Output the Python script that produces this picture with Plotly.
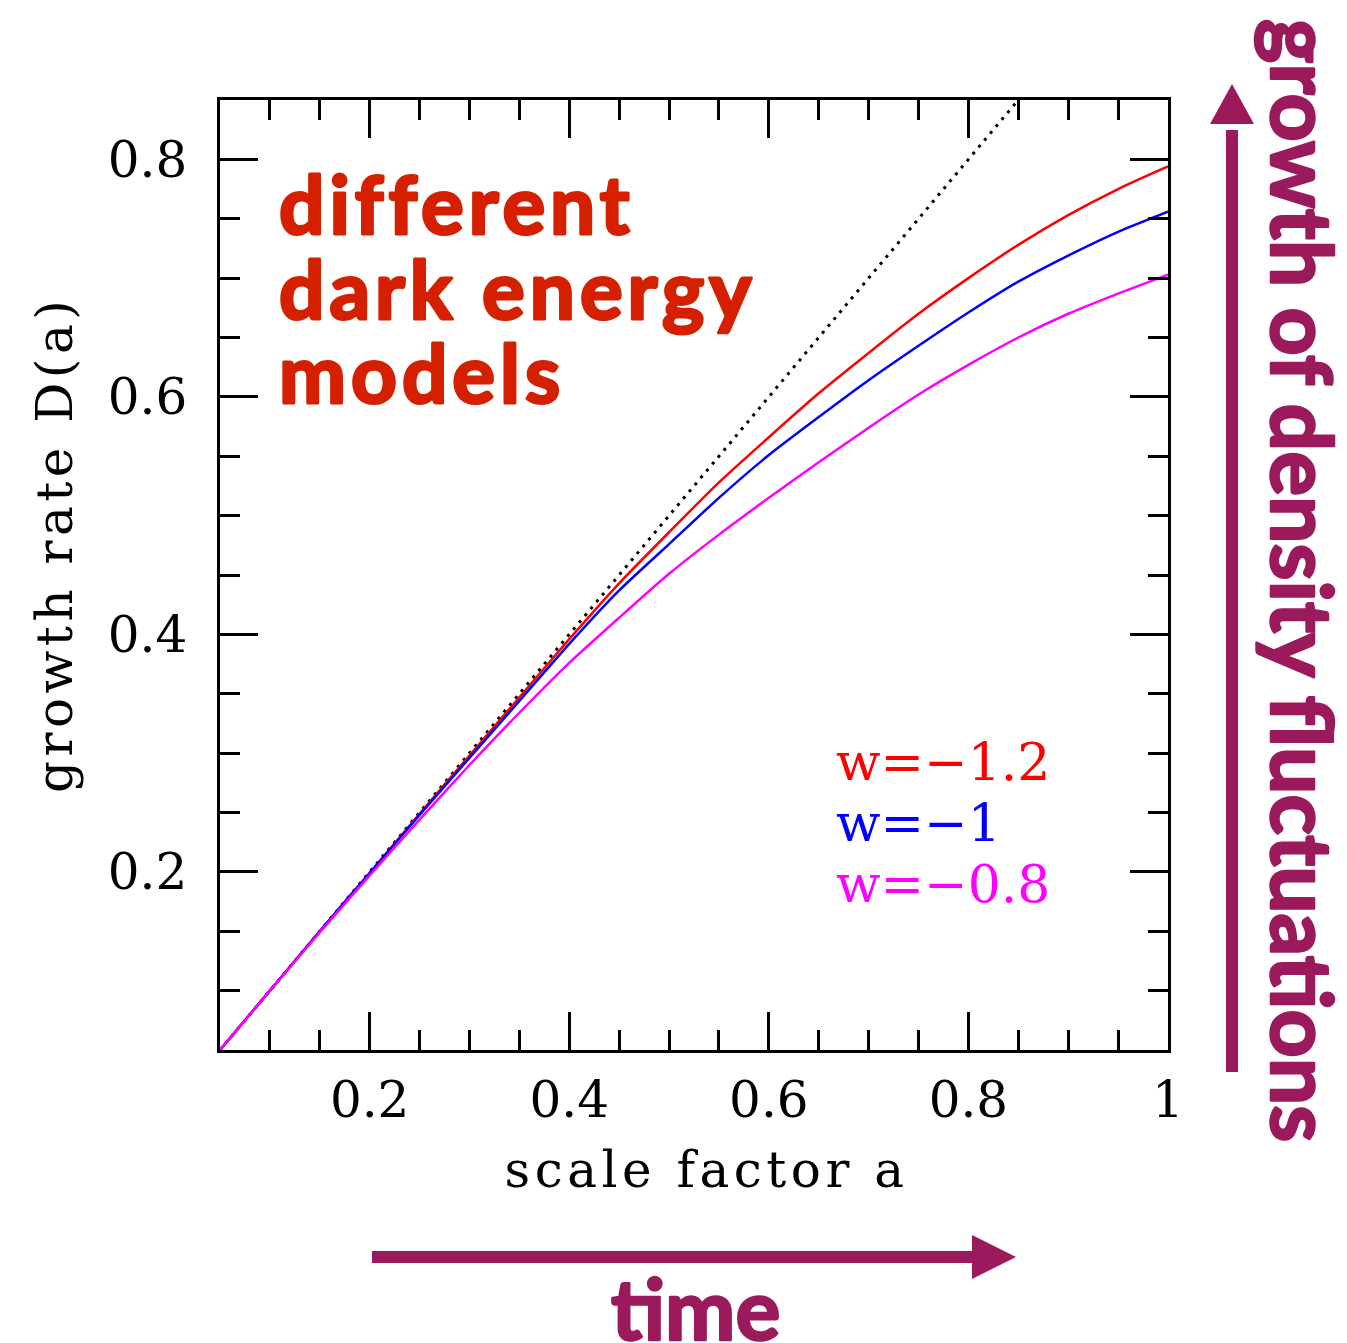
import plotly.graph_objects as go

# ---- data ----
scale_a = [0.05, 0.10, 0.15, 0.20, 0.25, 0.30, 0.35, 0.40, 0.45, 0.50,
           0.55, 0.60, 0.65, 0.70, 0.75, 0.80, 0.85, 0.90, 0.95, 1.00]
D_w_m12 = [0.050, 0.100, 0.150, 0.199, 0.249, 0.298, 0.347, 0.396, 0.443, 0.486,
           0.528, 0.566, 0.603, 0.637, 0.670, 0.700, 0.728, 0.753, 0.775, 0.794]
D_w_m10 = [0.050, 0.100, 0.150, 0.199, 0.248, 0.296, 0.344, 0.392, 0.437, 0.476,
           0.515, 0.551, 0.583, 0.614, 0.643, 0.671, 0.697, 0.719, 0.739, 0.756]
D_w_m08 = [0.050, 0.100, 0.149, 0.197, 0.244, 0.290, 0.334, 0.376, 0.414, 0.451,
           0.484, 0.515, 0.545, 0.574, 0.602, 0.627, 0.650, 0.670, 0.687, 0.703]
ref_a = [0.05, 0.86]
ref_D = [0.05, 0.86]

series_labels = ["w=\u22121.2", "w=\u22121", "w=\u22120.8"]
series_colors = ["#FF0000", "#0000FF", "#FF00FF"]

x_tickvals = [0.2, 0.4, 0.6, 0.8, 1.0]
x_ticktext = ["0.2", "0.4", "0.6", "0.8", "1"]
y_tickvals = [0.2, 0.4, 0.6, 0.8]
y_ticktext = ["0.2", "0.4", "0.6", "0.8"]

PURPLE = "#9A1A5C"
TITLE_RED = "#D52000"
SERIF = "DejaVu Serif"
SANS = "Lato"

fig = go.Figure()
fig.add_trace(go.Scatter(x=ref_a, y=ref_D, mode="lines",
                         line=dict(color="black", width=3, dash="3px,6px"),
                         showlegend=False, hoverinfo="skip"))
for ys, lab, col in zip([D_w_m12, D_w_m10, D_w_m08], series_labels, series_colors):
    fig.add_trace(go.Scatter(x=scale_a, y=ys, mode="lines", name=lab,
                             line=dict(color=col, width=2.5, shape="spline", smoothing=0.6),
                             showlegend=False))

axis_common = dict(showline=True, linecolor="black", linewidth=2.5, mirror="allticks",
                   ticks="inside", ticklen=38, tickwidth=2.5, tickcolor="black",
                   showgrid=False, zeroline=False,
                   tickfont=dict(family=SERIF, size=50, color="black"))
fig.update_xaxes(range=[0.05, 1.0], tickvals=x_tickvals, ticktext=x_ticktext,
                 ticklabelstandoff=4,
                 minor=dict(ticks="inside", ticklen=20, tickwidth=2.5, tickcolor="black",
                            tick0=0, dtick=0.05),
                 **axis_common)
fig.update_yaxes(range=[0.05, 0.85], tickvals=y_tickvals, ticktext=y_ticktext,
                 ticklabelstandoff=20,
                 minor=dict(ticks="inside", ticklen=20, tickwidth=2.5, tickcolor="black",
                            tick0=0, dtick=0.05),
                 **axis_common)

W, H = 1347, 1343
L, R, T, B = 220, 179, 100, 293
pw, ph = W - L - R, H - T - B


def px(xp):
    return (xp - L) / pw


def py(yp):
    return (H - B - yp) / ph


ann = []
# model title lines
for txt, yc in [("different", 203), ("dark energy", 288), ("models", 372)]:
    ann.append(dict(text=txt, x=px(277), y=py(yc), xref="paper", yref="paper",
                    xanchor="left", yanchor="middle", showarrow=False,
                    font=dict(family=SANS, size=80, color=TITLE_RED, weight="bold")))
# series labels
for lab, col, yc in zip(series_labels, series_colors, [762, 823, 884]):
    ann.append(dict(text=lab, x=px(834), y=py(yc), xref="paper", yref="paper",
                    xanchor="left", yanchor="middle", showarrow=False,
                    font=dict(family=SERIF, size=52, color=col)))
# axis titles
ann.append(dict(text="scale factor a", x=px(706), y=py(1170), xref="paper", yref="paper",
                xanchor="center", yanchor="middle", showarrow=False,
                font=dict(family=SERIF, size=50, color="black")))
ann.append(dict(text="growth rate D(a)", x=px(55), y=py(545), xref="paper", yref="paper",
                xanchor="center", yanchor="middle", showarrow=False, textangle=-90,
                font=dict(family=SERIF, size=50, color="black")))
# side labels
ann.append(dict(text="time", x=px(695), y=py(1308), xref="paper", yref="paper",
                xanchor="center", yanchor="middle", showarrow=False,
                font=dict(family=SANS, size=84, color=PURPLE, weight="bold")))
ann.append(dict(text="growth of density fluctuations", x=px(1304), y=py(580),
                xref="paper", yref="paper", xanchor="center", yanchor="middle",
                showarrow=False, textangle=90,
                font=dict(family=SANS, size=84, color=PURPLE, weight="bold")))

shapes = [
    dict(type="line", xref="paper", yref="paper", x0=px(372), x1=px(980),
         y0=py(1257), y1=py(1257), line=dict(color=PURPLE, width=12)),
    dict(type="path", xref="paper", yref="paper",
         path=f"M {px(972)} {py(1235)} L {px(972)} {py(1279)} L {px(1016)} {py(1257)} Z",
         fillcolor=PURPLE, line=dict(width=0)),
    dict(type="line", xref="paper", yref="paper", x0=px(1232), x1=px(1232),
         y0=py(1072), y1=py(130), line=dict(color=PURPLE, width=12)),
    dict(type="path", xref="paper", yref="paper",
         path=f"M {px(1210)} {py(124)} L {px(1254)} {py(124)} L {px(1232)} {py(84)} Z",
         fillcolor=PURPLE, line=dict(width=0)),
]

fig.update_layout(width=W, height=H, margin=dict(l=L, r=R, t=T, b=B, autoexpand=False),
                  paper_bgcolor="white", plot_bgcolor="white",
                  annotations=ann, shapes=shapes, showlegend=False)

post = """
var gd = document.getElementById('{plot_id}');
function styleTexts(){
  gd.querySelectorAll('.annotation-text').forEach(function(t){
    if (t.getAttribute('data-styled')) return;
    var s = t.textContent;
    if (s === 'scale factor a' || s === 'growth rate D(a)') {
      t.style.letterSpacing = '4.5px';
    }
    if (s === 'different' || s === 'dark energy' || s === 'models') {
      var b0 = t.getBBox();
      t.style.letterSpacing = '5px';
      t.style.stroke = '#D52000'; t.style.strokeWidth = '3px'; t.style.strokeLinejoin = 'round';
      var b1 = t.getBBox();
      var x = parseFloat(t.getAttribute('x') || '0');
      t.setAttribute('x', x + (b0.x - b1.x));
    }
    if (s === 'time' || s === 'growth of density fluctuations') {
      t.style.stroke = '#9A1A5C'; t.style.strokeWidth = '2.5px'; t.style.strokeLinejoin = 'round';
    }
    t.setAttribute('data-styled', '1');
  });
}
styleTexts();
"""
fig.write_html("out.html", post_script=post)
